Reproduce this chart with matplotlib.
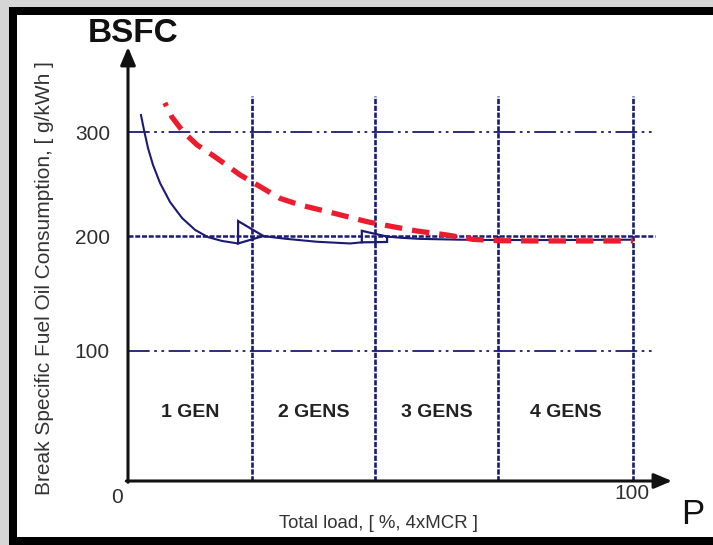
import numpy as np
import matplotlib
matplotlib.use("Agg")
import matplotlib.pyplot as plt
from matplotlib.patches import Rectangle, Polygon

plt.rcParams['font.family'] = ['Liberation Sans', 'DejaVu Sans']

# ---------------- data ----------------
Y_TICKS = [100, 200, 300]
Y_TICK_LABELS = ["100", "200", "300"]
X_TICK_LABELS = ["0", "100"]

GEN_BOUNDS = [0, 24.55, 48.9, 73.3, 100]
GEN_LABELS = ["1 GEN", "2 GENS", "3 GENS", "4 GENS"]
GEN_LABEL_Y = 53

# blue: BSFC with generator switching
ONE_GEN_X = [2.57, 3.17, 3.96, 4.95, 6.34, 8.32, 10.7, 13.3, 15.8, 18.6, 21.8]
ONE_GEN_Y = [316.3, 301.9, 284.6, 268.3, 251.0, 232.7, 217.3, 205.8, 199.1, 195.7, 193.5]
SWITCH1_X = [21.8, 21.8, 26.8]
SWITCH1_Y = [193.5, 214.4, 200.0]
TWO_GEN_X = [26.8, 28.5, 31.4, 37.4, 44.0, 46.3]
TWO_GEN_Y = [200.0, 199.0, 197.5, 195.0, 193.5, 194.5]
SWITCH2_X = [46.3, 46.3, 51.3, 51.3]
SWITCH2_Y = [194.5, 205.0, 199.5, 194.8]
MORE_GEN_X = [51.3, 53.9, 57.8, 65.7, 73.3, 85.0, 100.0]
MORE_GEN_Y = [199.5, 198.5, 197.5, 196.8, 196.5, 196.5, 196.8]

# red dashed: single large engine
RED_X = [7.3, 8.65, 10.9, 13.7, 17.2, 22.2, 24.5, 30.1, 34.1, 40.6, 47.3,
         52.5, 57.2, 63.1, 68.3, 73.7, 80, 90, 100]
RED_Y = [328, 314.7, 300.3, 287.5, 276.2, 258.7, 252.2, 236.2, 229.8, 222.1,
         213.8, 208.9, 204.8, 201.0, 197.1, 195.9, 195.7, 195.7, 195.7]

# non-uniform value axis of the original drawing (value -> relative height)
SCALE_V = [0, 100, 200, 300, 400]
SCALE_H = [0, 130, 245, 349, 453]

NAVY = "#1b1b72"
RED = "#ec1c2e"

W, H = 713, 545
fig = plt.figure(figsize=(W / 100, H / 100), dpi=100)
fig.patch.set_facecolor("#d6d6d6")
fig.patches.append(Rectangle((9 / W, 0), 1, (H - 7) / H, transform=fig.transFigure,
                             facecolor="black", edgecolor="none", zorder=-10))
fig.patches.append(Rectangle((17 / W, 8 / H), 1, 522 / H, transform=fig.transFigure,
                             facecolor="white", edgecolor="none", zorder=-9))

ax = fig.add_axes([128 / W, 64 / H, 544 / W, 434 / H])
ax.patch.set_alpha(0)


def fwd(v):
    return np.interp(v, SCALE_V, SCALE_H)


def inv(h):
    return np.interp(h, SCALE_H, SCALE_V)


ax.set_yscale('function', functions=(fwd, inv))
ax.set_xlim(0, 544 / 5.05)
ax.set_ylim(0, inv(434))
for s in ax.spines.values():
    s.set_visible(False)
ax.set_xticks([])
ax.set_yticks(Y_TICKS)
ax.set_yticklabels(Y_TICK_LABELS)
ax.tick_params(axis='y', length=0, pad=13, labelsize=15, labelcolor="#2e2e2e")
ax.yaxis.set_minor_locator(matplotlib.ticker.NullLocator())

# grid lines
x_end = 104.4
for yv in Y_TICKS:
    if yv == 200:
        ax.plot([0, x_end], [yv, yv], color=NAVY, lw=1.8, ls=(0, (2.0, 0.7)), zorder=2)
    else:
        ax.plot([0, x_end], [yv, yv], color=NAVY, lw=1.3,
                ls=(0, (12, 2.5, 1.5, 2.5, 1.5, 2.5)), zorder=2)
for xv in GEN_BOUNDS[1:]:
    ax.plot([xv, xv], [0, 335], color=NAVY, lw=1.9, ls=(0, (2.0, 0.6)), zorder=2)

# curves
ax.plot(RED_X, RED_Y, color=RED, lw=3.8, ls=(2.6, (3.3, 1.9)),
        solid_capstyle='butt', dash_capstyle='butt', zorder=4)
for xs, ys in [(ONE_GEN_X, ONE_GEN_Y), (TWO_GEN_X, TWO_GEN_Y), (MORE_GEN_X, MORE_GEN_Y)]:
    ax.plot(xs, ys, color=NAVY, lw=1.5, zorder=3)
for xs, ys in [(SWITCH1_X, SWITCH1_Y), (SWITCH2_X, SWITCH2_Y)]:
    ax.add_patch(Polygon(list(zip(xs, ys)), closed=True, fill=False,
                         edgecolor=NAVY, lw=1.6, zorder=3))

# axes arrows
arrow = dict(arrowstyle='-|>,head_length=0.9,head_width=0.38', lw=2.2, color="#111111",
             shrinkA=0, shrinkB=0, mutation_scale=12)
ax.annotate('', xy=(1, 0), xytext=(-0.003, 0), xycoords='axes fraction', arrowprops=arrow)
ax.annotate('', xy=(0, 1), xytext=(0, -0.003), xycoords='axes fraction', arrowprops=arrow)

# generator labels
for i, lab in enumerate(GEN_LABELS):
    ax.text((GEN_BOUNDS[i] + GEN_BOUNDS[i + 1]) / 2, GEN_LABEL_Y, lab, ha='center',
            va='center', fontsize=14, fontweight='bold', color="#222222")

# x tick labels
xt = ax.get_xaxis_transform()
ax.text(-1, -0.037, X_TICK_LABELS[0], transform=xt, ha='right', va='center',
        fontsize=15, color="#2e2e2e")
ax.text(99.8, -0.028, X_TICK_LABELS[1], transform=xt, ha='center', va='center',
        fontsize=15, color="#2e2e2e")

# titles / labels
fig.text(378 / W, 1 - 523 / H, "Total load, [ %, 4xMCR ]", ha='center', va='center',
         fontsize=13.4, color="#333333")
fig.text(45 / W, 1 - 278 / H, "Break Specific Fuel Oil Consumption, [ g/kWh ]",
         rotation=90, ha='center', va='center', fontsize=15, color="#333333")
fig.text(133 / W, 1 - 34 / H, "BSFC", ha='center', va='center', fontsize=24,
         fontweight='bold', color="#111111")
fig.text(693 / W, 1 - 515 / H, "P", ha='center', va='center', fontsize=25,
         color="#111111")

fig.savefig("out.png", dpi=100, facecolor=fig.get_facecolor())
